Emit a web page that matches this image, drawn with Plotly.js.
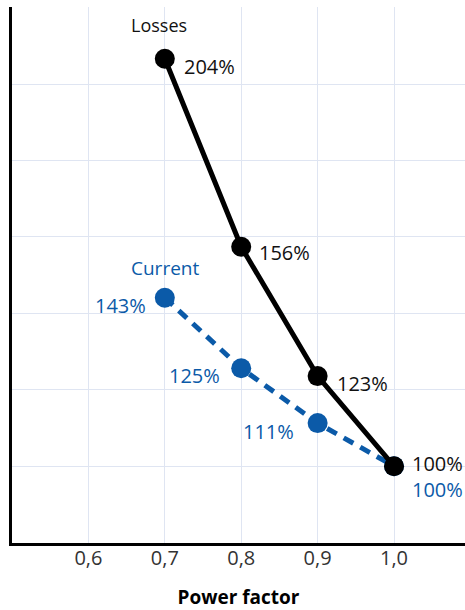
<!DOCTYPE html>
<html>
<head>
<meta charset="utf-8">
<script src="https://cdn.plot.ly/plotly-3.0.1.min.js"></script>
<style>html,body{margin:0;padding:0;background:#fff;}#chart{width:465px;height:610px;}</style>
</head>
<body>
<div id="chart"></div>
<script>
// ---- data ----
var powerFactor = [0.7, 0.8, 0.9, 1.0];
var losses = [204, 156, 123, 100];
var current = [143, 125, 111, 100];
var xTickVals = [0.6, 0.7, 0.8, 0.9, 1.0];
var xTickText = ['0,6', '0,7', '0,8', '0,9', '1,0'];
var seriesNames = ['Losses', 'Current'];

// ---- styling ----
var BLACK = '#000000';
var BLUE = '#0b5aa8';
var FONT = 'Open Sans, Noto Sans, sans-serif';

// label placement (pixels relative to each point)
var lossLabelPos = [
  {anchor: 'left', dx: 17, dy: -8},
  {anchor: 'left', dx: 16, dy: -6},
  {anchor: 'left', dx: 17, dy: -7},
  {anchor: 'left', dx: 16, dy: 3}
];
var currentLabelPos = [
  {anchor: 'right', dx: -17, dy: -8},
  {anchor: 'right', dx: -19, dy: -7},
  {anchor: 'right', dx: -22, dy: -8},
  {anchor: 'left', dx: 16, dy: -23}
];

var traces = [
  {
    x: powerFactor, y: current, type: 'scatter', mode: 'lines+markers',
    name: seriesNames[1],
    line: {color: BLUE, width: 5, dash: '11px,8px'},
    marker: {color: BLUE, size: 20},
    hoverinfo: 'skip'
  },
  {
    x: powerFactor, y: losses, type: 'scatter', mode: 'lines+markers',
    name: seriesNames[0],
    line: {color: BLACK, width: 5},
    marker: {color: BLACK, size: 20},
    hoverinfo: 'skip'
  }
];

var annotations = [];
function addLabels(vals, pos, color) {
  for (var i = 0; i < vals.length; i++) {
    annotations.push({
      x: powerFactor[i], y: vals[i], xref: 'x', yref: 'y',
      text: vals[i] + '%', showarrow: false,
      xanchor: pos[i].anchor, yanchor: 'middle',
      xshift: pos[i].dx, yshift: pos[i].dy,
      font: {family: FONT, size: 20, color: color}
    });
  }
}
addLabels(losses, lossLabelPos, '#111111');
addLabels(current, currentLabelPos, BLUE);
annotations.push({
  x: powerFactor[0], y: losses[0], xref: 'x', yref: 'y', text: seriesNames[0],
  showarrow: false, xanchor: 'center', yanchor: 'middle', xshift: -6, yshift: 34,
  font: {family: FONT, size: 18, color: '#111111'}
});
annotations.push({
  x: powerFactor[0], y: current[0], xref: 'x', yref: 'y', text: seriesNames[1],
  showarrow: false, xanchor: 'center', yanchor: 'middle', xshift: 0, yshift: 30,
  font: {family: FONT, size: 19, color: BLUE}
});

var layout = {
  width: 465, height: 610,
  margin: {l: 12, r: 0, t: 7, b: 67},
  paper_bgcolor: '#ffffff', plot_bgcolor: '#ffffff',
  showlegend: false,
  font: {family: FONT},
  xaxis: {
    range: [0.5, 1.0929],
    tickmode: 'array', tickvals: xTickVals, ticktext: xTickText,
    showgrid: true, gridcolor: '#dfe5f2', gridwidth: 1,
    zeroline: false,
    showline: true, linecolor: BLACK, linewidth: 3,
    ticks: '', ticklabelstandoff: -5,
    tickfont: {family: FONT, size: 20, color: '#333333'},
    title: {text: 'Power factor', font: {family: FONT, size: 19, color: BLACK, weight: 'bold'}, standoff: 26}
  },
  yaxis: {
    range: [80.4, 217.2],
    tick0: 100, dtick: 19.5,
    showgrid: true, gridcolor: '#dfe5f2', gridwidth: 1,
    zeroline: false,
    showline: true, linecolor: BLACK, linewidth: 3,
    showticklabels: false, ticks: ''
  },
  annotations: annotations
};

Plotly.newPlot('chart', traces, layout, {displayModeBar: false, staticPlot: true});
</script>
</body>
</html>
